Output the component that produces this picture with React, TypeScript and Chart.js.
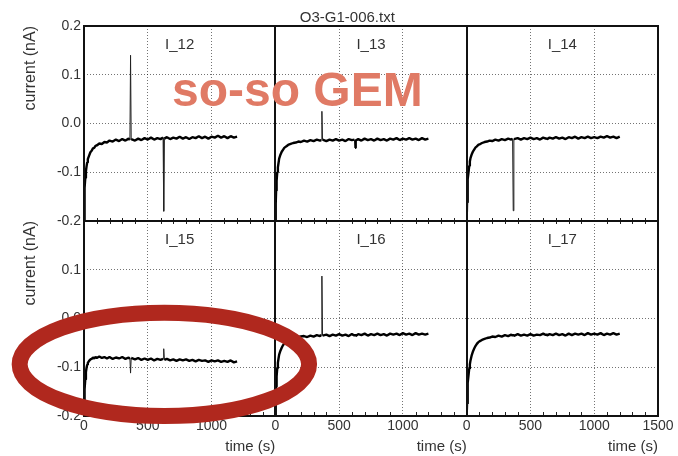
import React, { useEffect, useRef } from 'react';
import { Chart, registerables } from 'chart.js';

Chart.register(...registerables);

const TITLE = 'O3-G1-006.txt';
const STAMP = 'so-so GEM';
const PANEL_LABELS = ['I_12', 'I_13', 'I_14', 'I_15', 'I_16', 'I_17'];
const X_TITLE = 'time (s)';
const Y_TITLE = 'current (nA)';

// time (s)
const TIME = [
  0, 3, 6, 10, 15, 20, 25, 30,
  40, 50, 60, 70, 80, 90, 100, 120,
  140, 160, 180, 200, 225, 250, 275, 300,
  325, 350, 360, 365, 370, 400, 425, 450,
  475, 500, 525, 550, 575, 600, 620, 625,
  630, 650, 675, 700, 725, 750, 775, 800,
  825, 850, 875, 900, 925, 950, 975, 1000,
  1025, 1050, 1075, 1100, 1125, 1150, 1175, 1200,
];

// current (nA)
const I_12 = [
  -0.200, -0.160, -0.132, -0.112, -0.098, -0.088, -0.080, -0.073,
  -0.066, -0.059, -0.056, -0.051, -0.050, -0.046, -0.045, -0.041,
  -0.042, -0.038, -0.039, -0.035, -0.037, -0.033, -0.036, -0.032,
  -0.035, -0.031, -0.034, 0.140, -0.032, -0.035, -0.031, -0.034,
  -0.030, -0.033, -0.029, -0.033, -0.030, -0.032, -0.029, -0.180,
  -0.031, -0.028, -0.032, -0.029, -0.031, -0.027, -0.031, -0.028,
  -0.032, -0.028, -0.030, -0.026, -0.030, -0.027, -0.031, -0.027,
  -0.029, -0.025, -0.029, -0.026, -0.030, -0.026, -0.029, -0.027,
];
const I_13 = [
  -0.200, -0.165, -0.138, -0.118, -0.100, -0.090, -0.081, -0.072,
  -0.064, -0.058, -0.054, -0.050, -0.048, -0.046, -0.044, -0.042,
  -0.040, -0.039, -0.037, -0.038, -0.035, -0.037, -0.034, -0.036,
  -0.033, -0.035, -0.034, 0.025, -0.033, -0.036, -0.033, -0.035,
  -0.032, -0.035, -0.033, -0.036, -0.032, -0.034, -0.033, -0.050,
  -0.035, -0.032, -0.035, -0.031, -0.034, -0.032, -0.035, -0.031,
  -0.034, -0.032, -0.035, -0.031, -0.033, -0.030, -0.034, -0.031,
  -0.033, -0.030, -0.033, -0.031, -0.034, -0.030, -0.033, -0.031,
];
const I_14 = [
  -0.200, -0.162, -0.135, -0.114, -0.099, -0.087, -0.078, -0.071,
  -0.063, -0.057, -0.053, -0.049, -0.047, -0.044, -0.043, -0.040,
  -0.038, -0.037, -0.035, -0.036, -0.033, -0.035, -0.032, -0.034,
  -0.031, -0.033, -0.031, -0.179, -0.032, -0.030, -0.033, -0.030,
  -0.032, -0.029, -0.032, -0.030, -0.033, -0.029, -0.031, -0.030,
  -0.032, -0.029, -0.031, -0.028, -0.031, -0.029, -0.032, -0.028,
  -0.030, -0.027, -0.031, -0.028, -0.030, -0.027, -0.030, -0.028,
  -0.030, -0.027, -0.029, -0.026, -0.029, -0.027, -0.030, -0.027,
];
const I_15 = [
  -0.200, -0.170, -0.145, -0.125, -0.110, -0.101, -0.095, -0.091,
  -0.087, -0.084, -0.083, -0.080, -0.082, -0.079, -0.081, -0.078,
  -0.081, -0.079, -0.082, -0.079, -0.083, -0.080, -0.082, -0.079,
  -0.083, -0.080, -0.083, -0.112, -0.081, -0.084, -0.081, -0.085,
  -0.082, -0.085, -0.082, -0.086, -0.083, -0.085, -0.083, -0.062,
  -0.085, -0.083, -0.086, -0.084, -0.087, -0.084, -0.086, -0.084,
  -0.087, -0.085, -0.088, -0.085, -0.087, -0.086, -0.089, -0.086,
  -0.088, -0.086, -0.089, -0.087, -0.089, -0.086, -0.090, -0.088,
];
const I_16 = [
  -0.200, -0.168, -0.140, -0.119, -0.102, -0.091, -0.082, -0.074,
  -0.066, -0.060, -0.055, -0.051, -0.048, -0.046, -0.044, -0.042,
  -0.041, -0.039, -0.038, -0.037, -0.036, -0.038, -0.035, -0.037,
  -0.034, -0.036, -0.034, 0.087, -0.035, -0.033, -0.036, -0.033,
  -0.035, -0.032, -0.035, -0.033, -0.036, -0.032, -0.035, -0.033,
  -0.036, -0.032, -0.034, -0.031, -0.035, -0.032, -0.034, -0.031,
  -0.034, -0.032, -0.035, -0.031, -0.033, -0.031, -0.034, -0.030,
  -0.033, -0.031, -0.034, -0.030, -0.033, -0.031, -0.033, -0.031,
];
const I_17 = [
  -0.200, -0.175, -0.152, -0.132, -0.115, -0.103, -0.094, -0.086,
  -0.075, -0.067, -0.061, -0.056, -0.052, -0.049, -0.047, -0.044,
  -0.042, -0.040, -0.039, -0.037, -0.038, -0.035, -0.037, -0.034,
  -0.036, -0.033, -0.035, -0.033, -0.036, -0.032, -0.035, -0.033,
  -0.035, -0.032, -0.035, -0.033, -0.034, -0.031, -0.034, -0.032,
  -0.035, -0.032, -0.034, -0.031, -0.034, -0.032, -0.035, -0.031,
  -0.034, -0.031, -0.033, -0.031, -0.034, -0.030, -0.033, -0.031,
  -0.033, -0.030, -0.034, -0.031, -0.033, -0.030, -0.033, -0.031,
];

const SERIES = [I_12, I_13, I_14, I_15, I_16, I_17];
const X_MIN = 0;
const X_MAX = 1500;
const X_STEP = 500;
const Y_MIN = -0.2;
const Y_MAX = 0.2;
const Y_STEP = 0.1;

const FONT = '"Liberation Sans", Arial, Helvetica, sans-serif';
const TEXT = '#333333';
const GRID = 'rgba(0,0,0,0.55)';

const fmtY = (v: number) => (Math.abs(v) < 1e-9 ? '0.0' : Number(v).toFixed(1));

function xAxis(weight: number, last: boolean) {
  return {
    type: 'linear',
    position: 'bottom',
    stack: 'cols',
    stackWeight: 1,
    weight,
    min: X_MIN,
    max: X_MAX,
    afterFit: (s: any) => { s.height = 40; },
    ticks: {
      stepSize: X_STEP,
      padding: 2,
      color: TEXT,
      font: { family: FONT, size: 14 },
      maxRotation: 0,
      autoSkip: false,
      callback: (v: any) => (!last && Number(v) === X_MAX ? '' : String(v)),
    },
    grid: { color: GRID, lineWidth: 1, drawTicks: false },
    border: { display: false, dash: [1, 2] },
    title: {
      display: true,
      text: X_TITLE,
      align: 'end',
      color: TEXT,
      font: { family: FONT, size: 15 },
      padding: { top: 0, bottom: 0 },
    },
  };
}

function yAxis(weight: number, top: boolean) {
  return {
    type: 'linear',
    position: 'left',
    stack: 'rows',
    stackWeight: 1,
    weight,
    min: Y_MIN,
    max: Y_MAX,
    afterFit: (s: any) => { s.width = 84; },
    ticks: {
      stepSize: Y_STEP,
      padding: 3,
      color: TEXT,
      font: { family: FONT, size: 14 },
      autoSkip: false,
      callback: (v: any) => (!top && Number(v) > 0.15 ? '' : fmtY(Number(v))),
    },
    grid: { color: GRID, lineWidth: 1, drawTicks: false },
    border: { display: false, dash: [1, 2] },
    title: {
      display: true,
      text: Y_TITLE,
      align: 'end',
      color: TEXT,
      font: { family: FONT, size: 16 },
      padding: { top: 21, bottom: 0 },
    },
  };
}

const overlay = {
  id: 'overlay',
  afterDraw(chart: any) {
    const ctx = chart.ctx as CanvasRenderingContext2D;
    const { left, right, top, bottom } = chart.chartArea;
    const xs = ['x1', 'x2', 'x3'].map((id) => chart.scales[id]);
    const yT = chart.scales.yT;
    const yB = chart.scales.yB;
    const mid = Math.round(yT.bottom);
    ctx.save();

    // minor ticks
    ctx.strokeStyle = '#222';
    ctx.lineWidth = 1;
    ctx.beginPath();
    for (const s of xs) {
      for (let t = 100; t < X_MAX; t += 100) {
        if (t % X_STEP === 0) continue;
        const px = Math.round(s.getPixelForValue(t)) + 0.5;
        ctx.moveTo(px, mid - 3);
        ctx.lineTo(px, mid + 3);
        ctx.moveTo(px, bottom);
        ctx.lineTo(px, bottom - 4);
      }
    }
    ctx.stroke();

    // frame
    ctx.strokeStyle = '#111';
    ctx.lineWidth = 2;
    ctx.strokeRect(left, top, right - left, bottom - top);
    ctx.beginPath();
    ctx.moveTo(Math.round(xs[1].left), top);
    ctx.lineTo(Math.round(xs[1].left), bottom);
    ctx.moveTo(Math.round(xs[2].left), top);
    ctx.lineTo(Math.round(xs[2].left), bottom);
    ctx.moveTo(left, mid);
    ctx.lineTo(right, mid);
    ctx.stroke();

    // panel labels
    ctx.fillStyle = TEXT;
    ctx.font = `15px ${FONT}`;
    ctx.textAlign = 'center';
    ctx.textBaseline = 'middle';
    PANEL_LABELS.forEach((lab, i) => {
      const sx = xs[i % 3];
      const sy = i < 3 ? yT : yB;
      ctx.fillText(lab, (sx.left + sx.right) / 2, sy.top + 19);
    });

    // title
    ctx.font = `15px ${FONT}`;
    ctx.fillText(TITLE, xs[1].left + 72, 18);

    // stamp text
    ctx.fillStyle = '#E07A65';
    ctx.font = `bold 48px ${FONT}`;
    ctx.textAlign = 'left';
    ctx.textBaseline = 'alphabetic';
    ctx.fillText(STAMP, 172, 106);

    // red ellipse
    const cx = xs[0].getPixelForValue(630);
    const cy = yB.getPixelForValue(-0.094);
    ctx.strokeStyle = '#B0281E';
    ctx.lineWidth = 16;
    ctx.beginPath();
    ctx.ellipse(cx, cy, 144.7, 51.7, 0, 0, Math.PI * 2);
    ctx.stroke();

    ctx.restore();
  },
};

export default function App() {
  const ref = useRef<HTMLCanvasElement>(null);
  useEffect(() => {
    const axes = [
      { x: 'x1', y: 'yT' }, { x: 'x2', y: 'yT' }, { x: 'x3', y: 'yT' },
      { x: 'x1', y: 'yB' }, { x: 'x2', y: 'yB' }, { x: 'x3', y: 'yB' },
    ];
    const isSpike = (c: any) =>
      c.p0.parsed.x >= 300 && Math.abs(c.p1.parsed.y - c.p0.parsed.y) > 0.015;
    const datasets = SERIES.map((vals, i) => ({
      label: PANEL_LABELS[i],
      data: TIME.map((t, j) => ({ x: t, y: vals[j] })),
      xAxisID: axes[i].x,
      yAxisID: axes[i].y,
      borderColor: '#000',
      borderWidth: 2.4,
      borderJoinStyle: 'bevel',
      pointRadius: 0,
      tension: 0,
      fill: false,
      segment: {
        borderWidth: (c: any) => (isSpike(c) ? 1 : 2.4),
        borderColor: (c: any) => (isSpike(c) ? '#222' : '#000'),
      },
    }));
    const chart = new Chart(ref.current as HTMLCanvasElement, {
      type: 'line',
      data: { datasets } as any,
      options: {
        animation: false,
        responsive: false,
        maintainAspectRatio: false,
        events: [],
        layout: { padding: { left: 0, right: 20, top: 26, bottom: 0 } },
        plugins: { legend: { display: false }, tooltip: { enabled: false }, title: { display: false } },
        scales: {
          x1: xAxis(1, false),
          x2: xAxis(2, false),
          x3: xAxis(3, true),
          yT: yAxis(2, true),
          yB: yAxis(1, false),
        } as any,
      },
      plugins: [overlay],
    } as any);
    return () => chart.destroy();
  }, []);
  return (
    <div style={{ position: 'fixed', left: 0, top: 0, width: 678, height: 456, background: '#fff' }}>
      <canvas ref={ref} width={678} height={456} style={{ width: 678, height: 456, display: 'block' }} />
    </div>
  );
}
